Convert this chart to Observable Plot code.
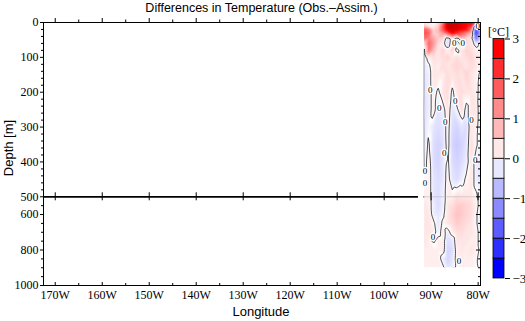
<!DOCTYPE html>
<html><head><meta charset="utf-8">
<script src="https://cdn.jsdelivr.net/npm/d3@7"></script>
<script src="https://cdn.jsdelivr.net/npm/@observablehq/plot@0.6"></script>
<style>
body{margin:0;background:#fff;}
#wrap{position:relative;width:525px;height:321px;overflow:hidden;background:#fff;}
#wrap svg{position:absolute;left:0;top:0;}
.t{position:absolute;white-space:nowrap;font-family:"Liberation Sans",Arial,sans-serif;color:#000;}
.dbg{position:absolute;left:50px;top:30px;width:360px;font:9px monospace;color:#c00;white-space:pre-wrap;}
</style></head><body><div id="wrap"></div>
<script>
const lons = [-91.5,-90.5,-89.5,-88.5,-87.5,-86.5,-85.5,-84.5,-83.5,-82.5,-81.5,-80.5,-79.5];
const depths = [0,10,20,30,45,60,80,100,125,150,200,250,300,350,400,450,500,550,600,650,700,750,800,850,900];
const dT = [
  [ 0.3, 0.2, 0.1, 0.4, 1.5, 3.5, 3.5, 3.5, 3.2, 3.0, 3.0, 2.0, 1.0],
  [ 0.8, 0.3, 0.2, 0.6, 2.0, 3.5, 3.5, 3.5, 3.2, 3.0, 2.5,-1.0, 0.5],
  [ 2.0, 1.5, 0.5, 0.8, 2.0, 3.2, 3.5, 3.3, 3.0, 2.8, 1.5,-2.0,-0.5],
  [ 2.2, 1.8, 0.6, 0.7, 1.2, 2.0, 3.0, 2.5, 2.0, 1.5, 0.8,-2.2,-1.0],
  [ 1.8, 1.5, 1.0, 0.6, 0.5,-0.3, 0.3,-0.4, 0.8, 0.5, 0.3,-1.5,-0.5],
  [ 0.5, 1.8, 1.2, 0.4, 0.2,-0.4, 0.4, 0.3,-0.3, 0.4, 0.3,-0.3, 0.2],
  [-0.2, 1.6, 0.8, 0.3, 0.5, 0.2, 0.5,-0.2, 0.3, 0.5, 0.4, 0.2, 0.3],
  [-0.3, 0.2, 0.4, 0.3, 0.4, 0.5, 0.3, 0.4, 0.3, 0.4, 0.5, 0.3, 0.2],
  [-0.3,-0.1, 0.3, 0.2, 0.4, 0.3, 0.4, 0.5, 0.4, 0.3, 0.4, 0.3, 0.1],
  [-0.3,-0.2, 0.3, 0.3, 0.2, 0.4, 0.3, 0.4, 0.3, 0.5, 0.3, 0.2,-0.1],
  [-0.3,-0.2, 0.2,-0.1, 0.3, 0.4,-0.1, 0.3, 0.4, 0.3, 0.3, 0.2,-0.2],
  [-0.4,-0.2, 0.2,-0.3,-0.2, 0.3,-0.3,-0.1, 0.4,-0.2, 0.3, 0.3,-0.3],
  [-0.3,-0.1,-0.3,-0.4,-0.3, 0.2,-0.4,-0.5,-0.3,-0.4, 0.3, 0.2,-0.3],
  [-0.3, 0.1,-0.4,-0.5,-0.4, 0.2,-0.5,-0.6,-0.5,-0.3, 0.4, 0.1,-0.2],
  [-0.2, 0.2,-0.4,-0.5,-0.3, 0.1,-0.4,-0.5,-0.4,-0.2, 0.3,-0.2,-0.3],
  [ 0.1, 0.2,-0.3,-0.4,-0.3, 0.2,-0.3,-0.4,-0.2, 0.1, 0.3,-0.2,-0.3],
  [ 0.2, 0.2,-0.3,-0.4,-0.2, 0.2, 0.2, 0.4, 0.3, 0.3, 0.3, 0.1,-0.2],
  [ 0.3, 0.2,-0.2,-0.4,-0.2, 0.3, 0.4, 0.6, 0.6, 0.5, 0.4, 0.2,-0.2],
  [ 0.3, 0.3,-0.2,-0.3,-0.1, 0.3, 0.5, 0.7, 0.6, 0.5, 0.4, 0.1,-0.3],
  [ 0.3, 0.3, 0.1,-0.3, 0.1, 0.3, 0.4, 0.6, 0.5, 0.4, 0.3, 0.1,-0.3],
  [ 0.3, 0.3, 0.2,-0.2, 0.2,-0.2, 0.2, 0.4, 0.4, 0.3, 0.3, 0.2,-0.2],
  [ 0.3, 0.2,-0.1, 0.2, 0.2,-0.4,-0.3, 0.3, 0.3, 0.3, 0.2, 0.2,-0.2],
  [ 0.2, 0.2, 0.2, 0.2, 0.2,-0.5,-0.4, 0.2, 0.3, 0.2, 0.3, 0.2,-0.1],
  [ 0.2, 0.2, 0.2, 0.2,-0.2,-0.5,-0.3, 0.2, 0.2, 0.2, 0.2, 0.1,-0.2],
  [ 0.2, 0.2, 0.2, 0.2, 0.1,-0.3,-0.2, 0.1, 0.2, 0.2, 0.2, 0.1,-0.1]
];
const labelLons   = [-80.1,-85.1,-83.3,-90.2,-88.3,-84.9,-81.4,-87.0,-87.2,-91.3,-91.3,-80.6,-89.6,-84.1];
const labelDepths = [   11,   60,   60,  193,  245,  225,  280,  285,  375,  426,  462,  394,  729,  862];

const xDomain = [-172.5, -79.5];
const majorX = [-170,-160,-150,-140,-130,-120,-110,-100,-90,-80];
const minorX = [-165,-155,-145,-135,-125,-115,-105,-95,-85];
const majorY = [0,100,200,300,400,500,600,800,1000];
const minorY = [20,40,60,80,120,140,160,180,220,240,260,280,320,340,360,380,420,440,460,480,550,650,700,750,850,900,950];
const cbEdges = [-3,-2.5,-2,-1.5,-1,-0.5,0,0.5,1,1.5,2,2.5,3];
const cbTicks = [-3,-2,-1,0,1,2,3];

const grid = [];
depths.forEach((d, i) => lons.forEach((l, j) => grid.push({lon: l, depth: d, v: dT[i][j]})));
const labels = labelLons.map((l, i) => ({lon: l, depth: labelDepths[i]}));
const bins = cbEdges.slice(0, -1).map((lo, i) => ({lo, hi: cbEdges[i + 1], mid: (lo + cbEdges[i + 1]) / 2}));

const W = 525, H = 321;
const serif = '"Liberation Serif","Times New Roman",serif';
const lonPad = 0.6, depPad = 60;
const x0 = lons[0], x1 = lons[lons.length - 1], d0 = depths[0], d1 = depths[depths.length - 1];
// split depth axis: 0-500 m stretched, 500-1000 m compressed
const splitDepth = 500, lowerFactor = 0.509;
const depthT = d => d <= splitDepth ? d : splitDepth + (d - splitDepth) * lowerFactor;

const wrap = document.getElementById("wrap");
const dbg = [];

const baseOpts = {
  width: W, height: H,
  marginLeft: 43, marginRight: 45, marginTop: 22, marginBottom: 36,
  style: {fontFamily: serif, fontSize: "12px", background: "transparent", color: "#000"},
  x: {domain: xDomain},
  y: {transform: depthT, domain: [depthT(0), depthT(1000)], reverse: true},
  color: {type: "linear", domain: [-4, -3, 0, 3, 4], range: ["#000090", "#0000ff", "#ffffff", "#ff0000", "#a00000"], clamp: true}
};
const namedMarks = [
  ["rule500", () => Plot.ruleY([500], {stroke: "#000", strokeWidth: 1.8})],
  ["raster", () => Plot.raster(grid, {x: "lon", y: "depth", fill: "v", x1: x0, x2: x1, y1: d0, y2: d1, interpolate: "barycentric"})],
  ["contour", () => Plot.contour(grid, {x: "lon", y: "depth", value: "v", thresholds: [0], fill: "none", stroke: "#111", strokeWidth: 0.75,
      x1: x0 - lonPad, x2: x1 + lonPad, y1: d0 - depPad, y2: d1 + depPad, interpolate: "barycentric", clip: true})],
  ["coverL", () => Plot.rect([0], {x1: x0 - 2 * lonPad, x2: x0, y1: d0, y2: d1 + 2 * depPad, fill: "#fff"})],
  ["coverB", () => Plot.rect([0], {x1: x0 - 2 * lonPad, x2: x1, y1: d1, y2: d1 + 2 * depPad, fill: "#fff"})],
  ["rule500g", () => Plot.ruleY([500], {x1: x0, x2: x1, stroke: "#bbb", strokeWidth: 0.6})],
  ["labels", () => Plot.text(labels, {x: "lon", y: "depth", text: () => "0", fontSize: 9, fontFamily: serif, fill: "#000", stroke: "#fff", strokeWidth: 2.5})],
  ["axisY", () => Plot.axisY(majorY, {anchor: "left", tickSize: 3, tickPadding: 2, label: null, tickFormat: d => String(d)})],
  ["axisX", () => Plot.axisX(majorX, {anchor: "bottom", tickSize: 0, tickPadding: 5, label: null, tickFormat: d => `${-d}W`})],
  ["t1", () => Plot.ruleY(minorY, {x1: xDomain[0], x2: xDomain[0], insetLeft: -2})],
  ["t2", () => Plot.ruleY(majorY, {x1: xDomain[1], x2: xDomain[1], insetLeft: -4})],
  ["t3", () => Plot.ruleY(minorY, {x1: xDomain[1], x2: xDomain[1], insetLeft: -2})],
  ["t4", () => Plot.ruleX(majorX, {y1: 0, y2: 0, insetTop: -4})],
  ["t5", () => Plot.ruleX(minorX, {y1: 0, y2: 0, insetTop: -2.5})],
  ["t6", () => Plot.ruleX(majorX, {y1: 500, y2: 500, insetTop: -4, insetBottom: -4})],
  ["t7", () => Plot.ruleX(majorX, {y1: 1000, y2: 1000, insetTop: -3})],
  ["t8", () => Plot.ruleX(minorX, {y1: 1000, y2: 1000, insetTop: -2})],
  ["frame", () => Plot.frame({stroke: "#000", strokeWidth: 1})]
];
const okMarks = [];
for (const [name, fn] of namedMarks) {
  try { Plot.plot({...baseOpts, marks: [fn()]}); okMarks.push(fn()); }
  catch (e) { dbg.push(name + ": " + e.message); }
}
try { wrap.appendChild(Plot.plot({...baseOpts, marks: okMarks})); } catch (e) { dbg.push("main: " + e.message); }

try {
const cb = Plot.plot({
  width: W, height: H,
  marginLeft: 493, marginRight: 21, marginTop: 38.5, marginBottom: 43,
  style: {fontFamily: serif, fontSize: "13px", background: "transparent", color: "#000"},
  x: {domain: [0, 1], axis: null},
  y: {domain: [-3, 3], axis: null},
  color: {type: "linear", domain: [-2.75, 0, 2.75], range: ["#0000ff", "#ffffff", "#ff0000"], clamp: true},
  marks: [
    Plot.rect(bins, {x1: 0, x2: 1, y1: "lo", y2: "hi", fill: "mid", stroke: "#000", strokeWidth: 0.8}),
    Plot.axisY(cbTicks, {anchor: "right", tickSize: 5, tickPadding: 3, label: null, tickFormat: d => d < 0 ? "\u2212" + (-d) : String(d)})
  ]
});
wrap.appendChild(cb);
} catch (e) { dbg.push("cb: " + e.message); }

function addText(txt, css, cls) {
  const d = document.createElement("div");
  d.className = cls || "t";
  d.textContent = txt;
  Object.assign(d.style, css);
  wrap.appendChild(d);
}
addText("Differences in Temperature (Obs.\u2013Assim.)", {left: "0px", width: "523px", textAlign: "center", top: "0px", lineHeight: "16px", fontSize: "12.5px"});
addText("Depth [m]", {left: "8px", top: "148px", fontSize: "13px", transform: "translate(-50%,-50%) rotate(-90deg)"});
addText("Longitude", {left: "261px", top: "311px", fontSize: "13px", transform: "translate(-50%,-50%)"});
addText("[\u00b0C]", {left: "498.5px", top: "32px", fontSize: "12px", fontFamily: serif, transform: "translate(-50%,-50%)"});
if (dbg.length) addText(dbg.join("\n"), {}, "dbg");
</script></body></html>
